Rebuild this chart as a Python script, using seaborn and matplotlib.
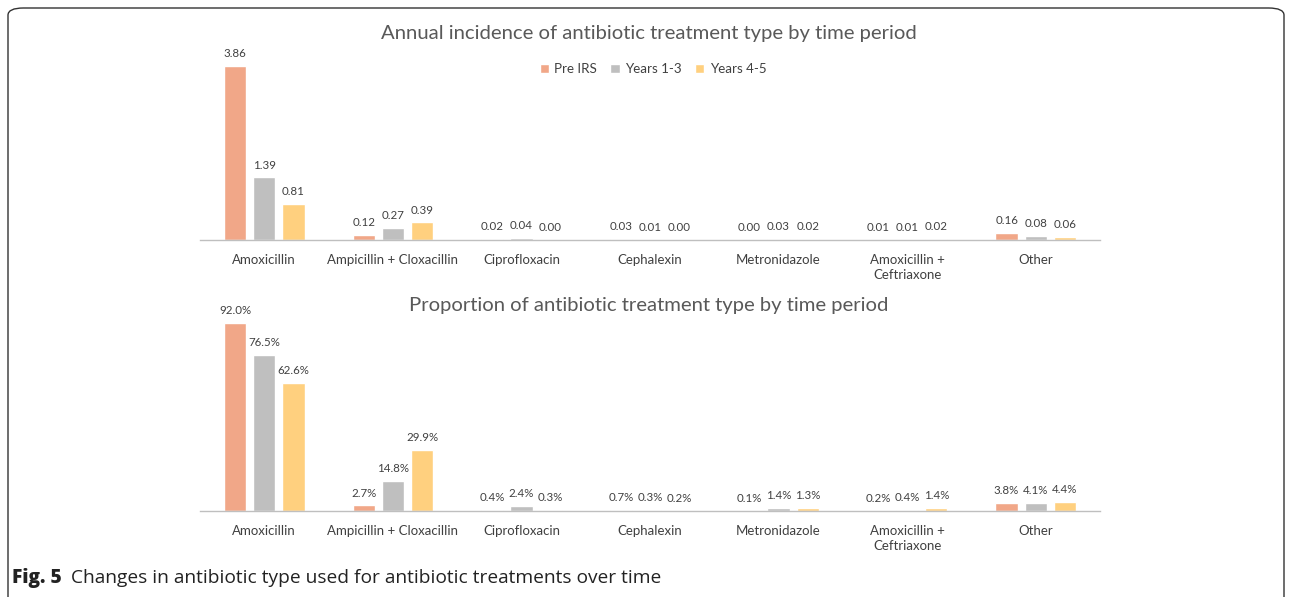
import matplotlib
matplotlib.use('Agg')
import matplotlib.pyplot as plt
from matplotlib.patches import FancyBboxPatch, Patch
import seaborn as sns
import pandas as pd

# data
drugs = ['Amoxicillin', 'Ampicillin + Cloxacillin', 'Ciprofloxacin', 'Cephalexin',
         'Metronidazole', 'Amoxicillin +\nCeftriaxone', 'Other']
periods = ['Pre IRS', 'Years 1-3', 'Years 4-5']

incidence_pre = [3.86, 0.12, 0.02, 0.03, 0.00, 0.01, 0.16]
incidence_y13 = [1.39, 0.27, 0.04, 0.01, 0.03, 0.01, 0.08]
incidence_y45 = [0.81, 0.39, 0.00, 0.00, 0.02, 0.02, 0.06]

share_pre = [92.0, 2.7, 0.4, 0.7, 0.1, 0.2, 3.8]
share_y13 = [76.5, 14.8, 2.4, 0.3, 1.4, 0.4, 4.1]
share_y45 = [62.6, 29.9, 0.3, 0.2, 1.3, 1.4, 4.4]

colors = ['#F1A788', '#BFBFBF', '#FFD07F']
text_col = '#404040'
title_col = '#595959'


def long_table(a, b, c):
    rows = []
    for period, vals in zip(periods, [a, b, c]):
        for drug, v in zip(drugs, vals):
            rows.append({'drug': drug, 'period': period, 'value': v})
    return pd.DataFrame(rows)


sns.set_style('white')
plt.rcParams['font.family'] = ['Lato', 'DejaVu Sans']

W, H = 1290, 597
fig = plt.figure(figsize=(W / 100, H / 100), dpi=100)


def fx(px):
    return px / W


def fy(py):
    return 1 - py / H


def draw_panel(ax, df, top, fmt):
    sns.barplot(data=df, x='drug', y='value', hue='period', palette=colors,
                width=0.68, gap=0.24, ax=ax, legend=False, saturation=1)
    for cont in ax.containers:
        ax.bar_label(cont, fmt=fmt, padding=5, fontsize=8.3, color=text_col)
    ax.set_ylim(0, top)
    ax.set_xlim(-0.5, len(drugs) - 0.5)
    ax.set_xlabel('')
    ax.set_ylabel('')
    ax.set_yticks([])
    for s in ['top', 'right', 'left']:
        ax.spines[s].set_visible(False)
    ax.spines['bottom'].set_color('#BFBFBF')
    ax.spines['bottom'].set_linewidth(1)
    ax.set_xticks(range(len(drugs)))
    ax.set_xticklabels(drugs, fontsize=9.5, color=text_col, linespacing=1.3)
    ax.tick_params(axis='x', which='major', length=0, pad=10)
    ax.set_xticks([i - 0.5 for i in range(len(drugs) + 1)], minor=True)
    ax.tick_params(axis='x', which='minor', length=5, color='#BFBFBF', width=1)


ax1 = fig.add_axes([fx(200), fy(240), fx(900), 180 / H])
draw_panel(ax1, long_table(incidence_pre, incidence_y13, incidence_y45), 4.0, '%.2f')

ax2 = fig.add_axes([fx(200), fy(511), fx(900), 204 / H])
draw_panel(ax2, long_table(share_pre, share_y13, share_y45), 100, '%.1f%%')

fig.text(fx(649), fy(33), 'Annual incidence of antibiotic treatment type by time period',
         ha='center', va='center', fontsize=14.6, color=title_col)
fig.text(fx(649), fy(305), 'Proportion of antibiotic treatment type by time period',
         ha='center', va='center', fontsize=14.6, color=title_col)

handles = [Patch(facecolor=c, label=p) for c, p in zip(colors, periods)]
fig.legend(handles=handles, loc='center', bbox_to_anchor=(fx(653), fy(69)), ncol=3,
           frameon=False, fontsize=9.6, handlelength=0.7, handleheight=0.7,
           handletextpad=0.4, columnspacing=1.0, labelcolor=text_col)

# frame around the figure panel
frame = FancyBboxPatch((fx(8), -0.1), fx(1276), fy(8) + 0.1,
                       boxstyle='round,pad=0,rounding_size=0.012',
                       transform=fig.transFigure, facecolor='none',
                       edgecolor='#333333', linewidth=1.0)
fig.patches.append(frame)

cap_font = ['Open Sans', 'DejaVu Sans']
t1 = fig.text(fx(12), fy(578), 'Fig. 5', fontsize=13.8, fontweight='heavy', color='#222222',
              va='center', ha='left', family=cap_font)
fig.canvas.draw()
bb = t1.get_window_extent()
fig.text((bb.x1 + 9) / W, fy(578), 'Changes in antibiotic type used for antibiotic treatments over time',
         fontsize=13.8, color='#222222', va='center', ha='left', family=cap_font)

fig.savefig('out.png', dpi=100)
